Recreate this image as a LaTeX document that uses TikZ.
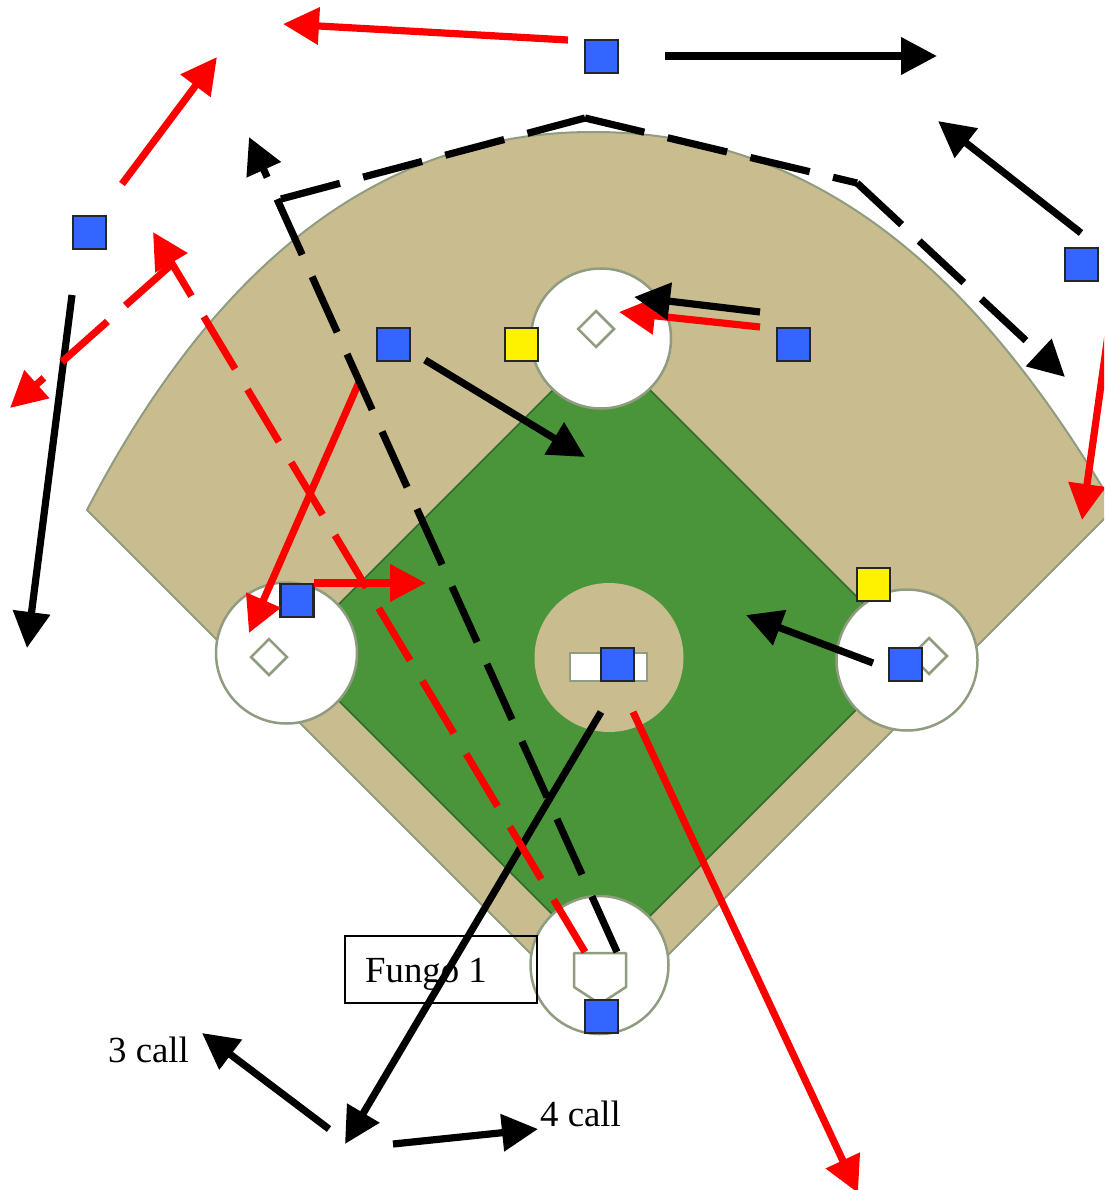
\documentclass[tikz,border=0pt]{standalone}
\usepackage{fontspec}
\setmainfont{Liberation Serif}
\usetikzlibrary{arrows.meta,shapes.geometric}
\definecolor{tan}{HTML}{C9BD8F}
\definecolor{grass}{HTML}{4A9539}
\definecolor{edgeline}{HTML}{8F9C80}
\definecolor{grassline}{HTML}{2F6B2A}
\definecolor{player}{HTML}{3366FF}
\tikzset{
  every node/.style={font=\fontsize{36.8}{40}\selectfont},
  bluebox/.style={rectangle,draw=black!85,line width=2.5pt,fill=player,minimum size=33pt,inner sep=0pt},
  yellowbox/.style={rectangle,draw=black!85,line width=2.5pt,fill=yellow,minimum size=33pt,inner sep=0pt},
  basecircle/.style={circle,draw=edgeline,line width=2.5pt,fill=white,inner sep=0pt},
  basemark/.style={diamond,draw=edgeline,line width=2.5pt,fill=white,inner sep=0pt,minimum size=37pt,aspect=1},
  movearrow/.style={line width=7.2pt,-{Triangle[length=36pt,width=36pt]}},
  plainline/.style={line width=7.2pt},
  blackmove/.style={movearrow,draw=black,color=black},
  redmove/.style={movearrow,draw=red,color=red},
  blackdash/.style={blackmove,dash pattern=on 61pt off 24pt},
  reddash/.style={redmove,dash pattern=on 61pt off 24pt},
  blackdashplain/.style={plainline,draw=black,dash pattern=on 61pt off 24pt},
  calltext/.style={anchor=base west,inner sep=0pt},
}
\begin{document}
\begin{tikzpicture}[x=1pt,y=-1pt]
\useasboundingbox (0,0) rectangle (1104,1190);
\clip (0,0) rectangle (1104,1190);
\fill[white] (0,0) rectangle (1104,1190);
% outfield
\filldraw[fill=tan,draw=edgeline,line width=2pt,line join=round]
  (600,1023) -- (87,510)
  .. controls (220,254) and (388,132) .. (593,132)
  .. controls (827,132) and (981,287) .. (1104,490)
  -- (1110,513) -- cycle;
% infield
\filldraw[fill=grass,draw=grassline,line width=1.5pt] (601.5,341.5) -- (913,653) -- (602,964) -- (290.5,652.5) -- cycle;
% mound
\node[circle,fill=tan,minimum size=149pt,inner sep=0pt] (mound) at (609,657.5) {};
\node[rectangle,draw=edgeline,line width=1.5pt,fill=white,minimum width=77pt,minimum height=28pt,inner sep=0pt] (rubber) at (608.5,667) {};
% bases
\node[basecircle,minimum size=140pt] (second) at (601,338.5) {};
\node[basecircle,minimum size=141pt] (third) at (286.5,653) {};
\node[basecircle,minimum size=141pt] (first) at (907,660) {};
\node[basecircle,minimum size=138pt] (home) at (599.5,965) {};
\node[basemark] (secondbag) at (596,329) {};
\node[basemark] (thirdbag) at (269,657) {};
\node[basemark] (firstbag) at (929,656) {};
\filldraw[fill=white,draw=edgeline,line width=2.5pt,line join=round]
  (574,953) -- (626,953) -- (626,987) -- (600,1004) -- (574,987) -- cycle;
% fungo label
\node[rectangle,draw=black,line width=1.5pt,minimum width=192pt,minimum height=67pt,inner sep=0pt] (fungo) at (441,969.5) {};
\node[calltext] (fungotext) at (365,982) {Fungo 1};
\node[calltext] (three) at (108,1062) {3 call};
\node[calltext] (four) at (540,1126) {4 call};
% players
\node[bluebox] (p1) at (601.5,56.5) {};
\node[bluebox] (p2) at (89.5,232.5) {};
\node[bluebox] (p3) at (1081.5,264.5) {};
\node[bluebox] (p4) at (393.5,344.5) {};
\node[bluebox] (p5) at (793.5,344.5) {};
\node[bluebox] (p6) at (297,600.5) {};
\node[bluebox] (p7) at (617.5,664.5) {};
\node[bluebox] (p8) at (905.5,664.5) {};
\node[bluebox] (p9) at (601.5,1016.5) {};
\node[yellowbox] (y1) at (521.5,344.5) {};
\node[yellowbox] (y2) at (873.5,584.5) {};
% free ends
\coordinate (r1a) at (568,40);      \coordinate (r1b) at (283,24);
\coordinate (r2a) at (122,184);     \coordinate (r2b) at (217,57);
\coordinate (r3a) at (1108,335);    \coordinate (r3b) at (1082,520);
\coordinate (r4a) at (760,327);     \coordinate (r4b) at (619,312);
\coordinate (r5a) at (360,380);     \coordinate (r5b) at (249,633);
\coordinate (r6a) at (314,583);     \coordinate (r6b) at (426,583);
\coordinate (r7a) at (633,712);     \coordinate (r7b) at (858,1193);
\coordinate (k1a) at (665,56);      \coordinate (k1b) at (937,56);
\coordinate (k2a) at (1081,233);    \coordinate (k2b) at (938,121);
\coordinate (k3a) at (760,312);     \coordinate (k3b) at (634,297);
\coordinate (k4a) at (425,360);     \coordinate (k4b) at (585,457);
\coordinate (k5a) at (873,663);     \coordinate (k5b) at (746,615);
\coordinate (k6a) at (72,295);      \coordinate (k6b) at (27,648);
\coordinate (k7a) at (601,712);     \coordinate (k7b) at (345,1144);
\coordinate (k8a) at (329,1129);    \coordinate (k8b) at (202,1033);
\coordinate (k9a) at (393,1144);    \coordinate (k9b) at (538,1129);
\coordinate (ld1a) at (617,952);    \coordinate (ld1b) at (249,137);
\coordinate (ld2a) at (281,199);    \coordinate (ld2m) at (585,118);
\coordinate (ld2n) at (857,183);    \coordinate (ld2b) at (1065,377);
\coordinate (rd1a) at (585,952);    \coordinate (rd1b) at (153,232);
\coordinate (rd2a) at (171,265);    \coordinate (rd2b) at (10,408);
% connectors
\draw[redmove] (r1a) -- (r1b);
\draw[redmove] (r2a) -- (r2b);
\draw[redmove] (r3a) -- (r3b);
\draw[redmove] (r4a) -- (r4b);
\draw[redmove] (r5a) -- (r5b);
\draw[redmove] (r6a) -- (r6b);
\draw[redmove] (r7a) -- (r7b);
\draw[blackmove] (k1a) -- (k1b);
\draw[blackmove] (k2a) -- (k2b);
\draw[blackmove] (k3a) -- (k3b);
\draw[blackmove] (k4a) -- (k4b);
\draw[blackmove] (k5a) -- (k5b);
\draw[blackmove] (k6a) -- (k6b);
\draw[blackmove] (k8a) -- (k8b);
\draw[blackmove] (k9a) -- (k9b);
\draw[blackdash] (ld1a) -- (ld1b);
\draw[blackdashplain] (ld2a) -- (ld2m);
\draw[blackdashplain] (ld2m) -- (ld2n);
\draw[blackdash] (ld2n) -- (ld2b);
\draw[blackmove] (k7a) -- (k7b);
\draw[reddash] (rd1a) -- (rd1b);
\draw[reddash] (rd2a) -- (rd2b);
\end{tikzpicture}
\end{document}
